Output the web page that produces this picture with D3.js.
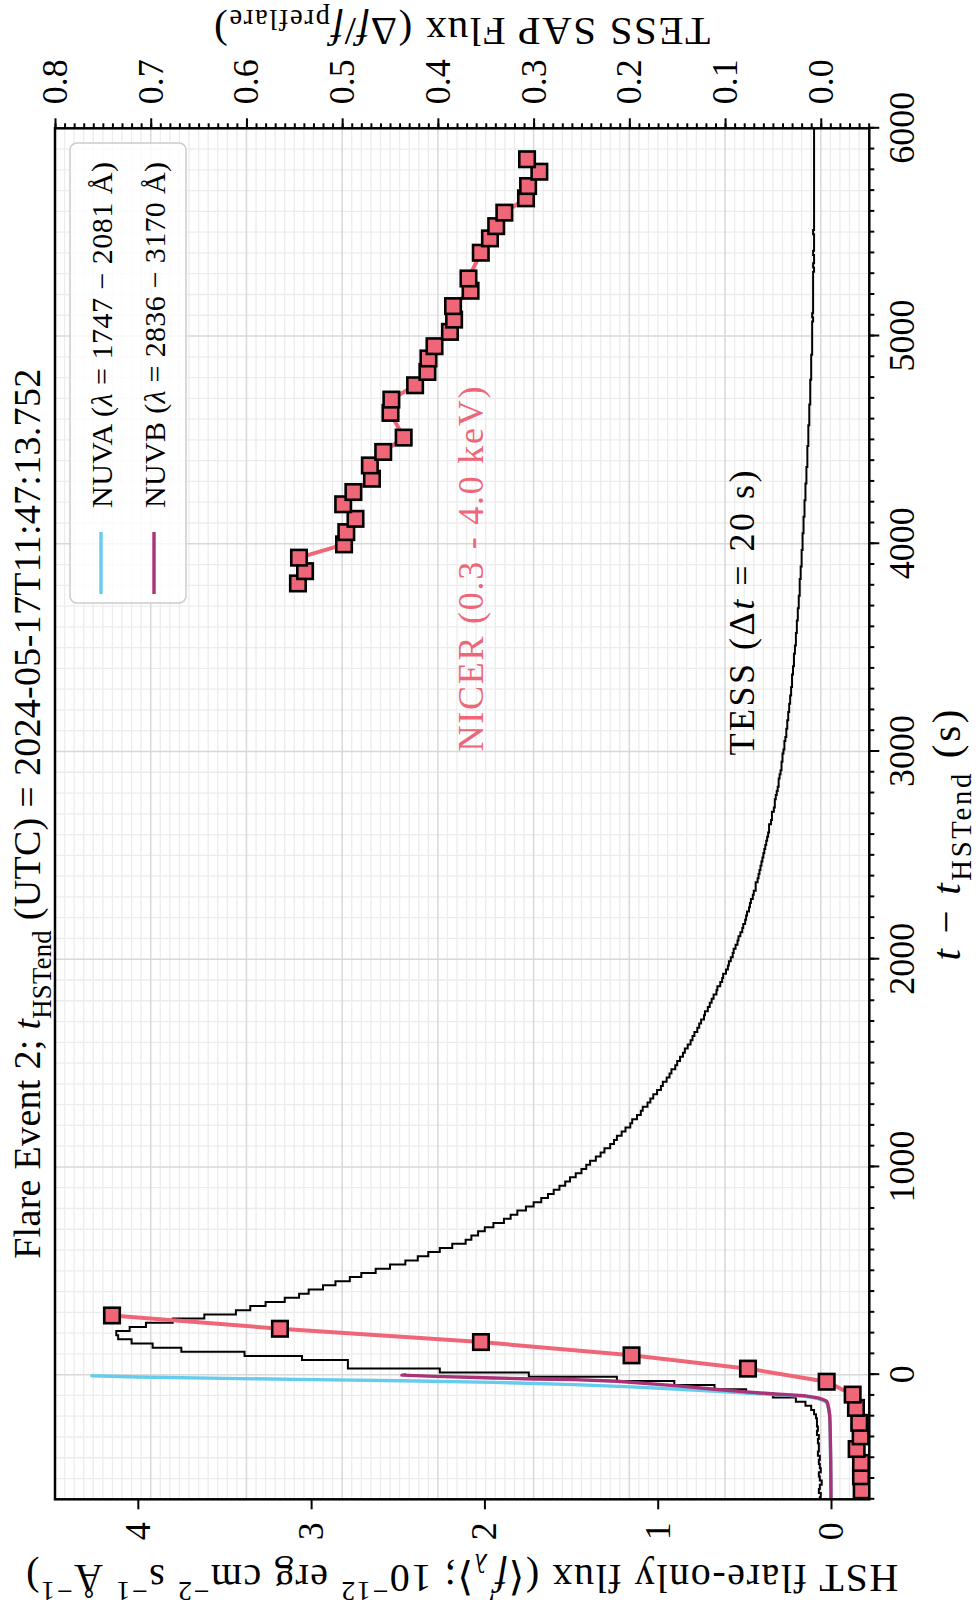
<!DOCTYPE html>
<html>
<head>
<meta charset="utf-8">
<script src="https://cdn.jsdelivr.net/npm/d3@7"></script>
<style>
  html, body { margin: 0; padding: 0; background: #fff; }
  svg { display: block; }
  text { font-family: "Liberation Serif", "DejaVu Serif", serif; fill: #000; }
</style>
</head>
<body>
<svg id="chart" width="979" height="1610"></svg>
<script>
// ---- data ----------------------------------------------------------------
// time axis (s relative to the end of the HST exposure)
const timeTicks = [0, 1000, 2000, 3000, 4000, 5000, 6000];
const hstTicks = [0, 1, 2, 3, 4];
const tessTicks = [0.0, 0.1, 0.2, 0.3, 0.4, 0.5, 0.6, 0.7, 0.8];

// TESS SAP flux, 20-s cadence starting at t = -600 s
const tessStart = -600;
const tessCadence = 20;
const tessFlux = [
  0.001, 0.000, 0.002, 0.001, -0.001, 0.001, 0.002, 0.000, 0.001, 0.002,
  0.001, 0.003, 0.002, 0.002, 0.003, 0.002, 0.004, 0.003, 0.004, 0.004,
  0.005, 0.007, 0.010, 0.016, 0.026, 0.050, 0.078, 0.111, 0.153, 0.213,
  0.305, 0.398, 0.494, 0.494, 0.542, 0.602, 0.668, 0.698, 0.720, 0.734,
  0.736, 0.722, 0.705, 0.677, 0.644, 0.611, 0.596, 0.580, 0.560, 0.545,
  0.535, 0.520, 0.507, 0.492, 0.480, 0.465, 0.450, 0.434, 0.421, 0.410,
  0.398, 0.385, 0.371, 0.365, 0.358, 0.351, 0.342, 0.331, 0.324, 0.317,
  0.308, 0.300, 0.292, 0.285, 0.279, 0.273, 0.267, 0.262, 0.256, 0.250,
  0.245, 0.241, 0.235, 0.230, 0.226, 0.220, 0.216, 0.213, 0.208, 0.204,
  0.199, 0.197, 0.192, 0.188, 0.186, 0.181, 0.178, 0.175, 0.171, 0.167,
  0.165, 0.161, 0.158, 0.156, 0.152, 0.150, 0.147, 0.144, 0.142, 0.139,
  0.136, 0.134, 0.132, 0.129, 0.127, 0.125, 0.122, 0.121, 0.118, 0.116,
  0.114, 0.112, 0.109, 0.108, 0.105, 0.103, 0.102, 0.099, 0.097, 0.096,
  0.094, 0.092, 0.091, 0.089, 0.087, 0.086, 0.084, 0.082, 0.081, 0.079,
  0.078, 0.077, 0.075, 0.074, 0.073, 0.071, 0.070, 0.068, 0.068, 0.066,
  0.065, 0.064, 0.063, 0.062, 0.061, 0.060, 0.059, 0.058, 0.057, 0.056,
  0.055, 0.054, 0.054, 0.052, 0.051, 0.051, 0.049, 0.048, 0.048, 0.047,
  0.046, 0.045, 0.044, 0.044, 0.043, 0.042, 0.041, 0.041, 0.040, 0.040,
  0.039, 0.038, 0.038, 0.037, 0.036, 0.036, 0.035, 0.035, 0.034, 0.034,
  0.033, 0.033, 0.032, 0.032, 0.031, 0.031, 0.030, 0.030, 0.030, 0.029,
  0.029, 0.028, 0.028, 0.028, 0.027, 0.027, 0.026, 0.026, 0.026, 0.025,
  0.025, 0.025, 0.024, 0.024, 0.024, 0.023, 0.023, 0.023, 0.022, 0.022,
  0.022, 0.022, 0.021, 0.021, 0.021, 0.020, 0.020, 0.020, 0.020, 0.019,
  0.019, 0.019, 0.019, 0.018, 0.018, 0.018, 0.018, 0.017, 0.017, 0.017,
  0.017, 0.016, 0.016, 0.016, 0.016, 0.015, 0.015, 0.015, 0.015, 0.014,
  0.014, 0.014, 0.014, 0.014, 0.013, 0.013, 0.013, 0.013, 0.013, 0.012,
  0.012, 0.012, 0.012, 0.012, 0.011, 0.011, 0.011, 0.011, 0.011, 0.011,
  0.010, 0.010, 0.010, 0.010, 0.010, 0.010, 0.009, 0.009, 0.009, 0.009,
  0.009, 0.009, 0.009, 0.009, 0.008, 0.009, 0.008, 0.008, 0.008, 0.008,
  0.008, 0.008, 0.008, 0.008, 0.008, 0.008, 0.007, 0.008, 0.007, 0.007,
  0.008, 0.007, 0.007, 0.007, 0.007, 0.008, 0.007, 0.007, 0.007, 0.007,
  0.007, 0.007, 0.007, 0.007, 0.007, 0.007, 0.007, 0.007, 0.007, 0.007,
  0.007, 0.007, 0.007, 0.007, 0.007, 0.007, 0.007, 0.007, 0.007, 0.007,
  0.007
];

// HST NUVA light curve
const nuvaTime = [-600, -500, -400, -300, -250, -200, -184, -160, -145, -133, -124, -115, -108, -104,
  -96, -88, -79, -69, -59, -48, -37, -29, -24, -18, -11, -5, 0];
const nuvaFlux = [0.0, 0.0, 0.002, 0.004, 0.006, 0.008, 0.010, 0.015, 0.020, 0.025, 0.045, 0.075, 0.12, 0.158,
  0.323, 0.49, 0.688, 0.903, 1.151, 1.483, 1.946, 2.476, 2.99, 3.50, 4.0, 4.265, 4.27];

// HST NUVB light curve
const nuvbTime = [-600, -500, -400, -300, -250, -200, -184, -160, -140, -128, -120, -112, -101, -93,
  -83, -69, -53, -32, -24, -21, -16, -8, -2, 0];
const nuvbFlux = [0.0, 0.001, 0.002, 0.004, 0.005, 0.007, 0.009, 0.014, 0.019, 0.025, 0.045, 0.075, 0.158, 0.323,
  0.49, 0.688, 0.903, 1.235, 1.483, 1.714, 1.946, 2.28, 2.476, 2.45];

// NICER 0.3-4.0 keV, scaled to the HST flux axis; two observing windows
const nicerTimeA = [-557, -489, -425, -358, -297, -232, -160, -96, -34, 29, 93, 157, 221, 285];
const nicerFluxA = [-0.177, -0.173, -0.173, -0.148, -0.171, -0.163, -0.144, -0.125, 0.025, 0.479, 1.151, 2.02, 3.18, 4.149];
const nicerTimeB = [3809, 3868, 3933, 3997, 4056, 4120, 4190, 4249, 4313, 4377, 4442, 4511, 4630, 4694, 4763,
  4827, 4892, 4951, 5020, 5079, 5144, 5218, 5277, 5401, 5470, 5529, 5594, 5663, 5722, 5791, 5851];
const nicerFluxB = [3.076, 3.035, 3.070, 2.810, 2.797, 2.744, 2.815, 2.756, 2.649, 2.661, 2.584, 2.466, 2.542, 2.537, 2.400,
  2.329, 2.323, 2.288, 2.199, 2.175, 2.181, 2.080, 2.092, 2.021, 1.968, 1.932, 1.885, 1.760, 1.748, 1.683, 1.754];

// ---- colours -------------------------------------------------------------
const colNUVA = "#66CCEE";
const colNUVB = "#AA3377";
const colNICER = "#EE6677";

// ---- layout (drawn landscape, then turned to portrait) -------------------
const svg = d3.select("#chart");
const root = svg.append("g").attr("transform", "translate(0,1610) rotate(-90)");

const P = { left: 110.7, right: 1481.7, top: 55, bottom: 869.3 };

const x = d3.scaleLinear().domain([-600, 6000]).range([P.left, P.right]);
const yH = d3.scaleLinear().domain([-0.221, 4.478]).range([P.bottom, P.top]);
const yT = d3.scaleLinear().domain([-0.0507, 0.8]).range([P.bottom, P.top]);

const clipId = "plotclip";
root.append("clipPath").attr("id", clipId).append("rect")
  .attr("x", P.left).attr("y", P.top)
  .attr("width", P.right - P.left).attr("height", P.bottom - P.top);

// ---- grid ----------------------------------------------------------------
const grid = root.append("g");
const tMinor = d3.range(-600, 6001, 100);
const tessMinor = d3.range(-5, 81).map(d => d / 100);

grid.selectAll("line.tm").data(tMinor.filter(d => d % 1000 !== 0)).join("line")
  .attr("x1", d => x(d)).attr("x2", d => x(d)).attr("y1", P.top).attr("y2", P.bottom)
  .attr("stroke", "#ececec").attr("stroke-width", 1.3);
grid.selectAll("line.vm").data(tessMinor.filter(d => Math.round(d * 100) % 10 !== 0)).join("line")
  .attr("x1", P.left).attr("x2", P.right).attr("y1", d => yT(d)).attr("y2", d => yT(d))
  .attr("stroke", "#ececec").attr("stroke-width", 1.3);
grid.append("g").selectAll("line").data(timeTicks).join("line")
  .attr("x1", d => x(d)).attr("x2", d => x(d)).attr("y1", P.top).attr("y2", P.bottom)
  .attr("stroke", "#d8d8d8").attr("stroke-width", 1.5);
grid.append("g").selectAll("line").data(tessTicks).join("line")
  .attr("x1", P.left).attr("x2", P.right).attr("y1", d => yT(d)).attr("y2", d => yT(d))
  .attr("stroke", "#d8d8d8").attr("stroke-width", 1.5);

// ---- data lines ----------------------------------------------------------
const plotG = root.append("g").attr("clip-path", `url(#${clipId})`);

const tessPts = tessFlux.map((v, i) => [tessStart + i * tessCadence, v]);
plotG.append("path").datum(tessPts)
  .attr("fill", "none").attr("stroke", "#000").attr("stroke-width", 2)
  .attr("d", d3.line().x(d => x(d[0])).y(d => yT(d[1])).curve(d3.curveStep));

const hstLine = d3.line().x(d => x(d[0])).y(d => yH(d[1]));
plotG.append("path").datum(nuvaTime.map((t, i) => [t, nuvaFlux[i]]))
  .attr("fill", "none").attr("stroke", colNUVA).attr("stroke-width", 3.4)
  .attr("stroke-linejoin", "round").attr("d", hstLine);
plotG.append("path").datum(nuvbTime.map((t, i) => [t, nuvbFlux[i]]))
  .attr("fill", "none").attr("stroke", colNUVB).attr("stroke-width", 3.4)
  .attr("stroke-linejoin", "round").attr("d", hstLine);

[[nicerTimeA, nicerFluxA], [nicerTimeB, nicerFluxB]].forEach(([ts, fs]) => {
  const pts = ts.map((t, i) => [t, fs[i]]);
  plotG.append("path").datum(pts)
    .attr("fill", "none").attr("stroke", colNICER).attr("stroke-width", 4)
    .attr("d", hstLine);
  const s = 15.5;
  plotG.append("g").selectAll("rect").data(pts).join("rect")
    .attr("x", d => x(d[0]) - s / 2).attr("y", d => yH(d[1]) - s / 2)
    .attr("width", s).attr("height", s)
    .attr("fill", colNICER).attr("stroke", "#000").attr("stroke-width", 2.6);
});

// ---- rich text helper ----------------------------------------------------
function rich(sel, parts, size, subShift) {
  const sub = subShift === undefined ? 0.28 : subShift;
  let shift = 0;
  parts.forEach(p => {
    const ts = sel.append("tspan").text(p.t);
    if (p.i) ts.attr("font-style", "italic");
    const target = p.s === "sub" ? sub * size : p.s === "sup" ? -0.42 * size : 0;
    if (target !== shift) { ts.attr("dy", target - shift); shift = target; }
    if (p.s) ts.attr("font-size", size * 0.7);
  });
}

// ---- annotations ---------------------------------------------------------
root.append("text").attr("x", x(3000)).attr("y", yH(2.01))
  .attr("font-size", 36).attr("textLength", 365).attr("lengthAdjust", "spacing")
  .style("fill", colNICER)
  .text("NICER (0.3 - 4.0 keV)");
const tessNote = root.append("text").attr("x", x(3000) - 4).attr("y", yT(0.07))
  .attr("font-size", 36).attr("textLength", 285).attr("lengthAdjust", "spacing");
rich(tessNote, [{ t: "TESS (Δ" }, { t: "t", i: true }, { t: " = 20 s)" }], 36);

// ---- axes ----------------------------------------------------------------
const tickFont = 36;
function styleAxis(g) {
  g.select(".domain").remove();
  g.selectAll(".tick line").attr("stroke", "#000").attr("stroke-width", 2);
  g.selectAll(".tick text").attr("font-size", tickFont)
    .attr("font-family", "Liberation Serif, serif");
}

root.append("g").attr("transform", `translate(0,${P.bottom})`)
  .call(d3.axisBottom(x).tickValues(tMinor).tickSize(5).tickFormat(""))
  .call(styleAxis);
root.append("g").attr("transform", `translate(0,${P.bottom})`)
  .call(d3.axisBottom(x).tickValues(timeTicks).tickSize(10).tickPadding(9).tickFormat(d3.format("d")))
  .call(styleAxis);

root.append("g").attr("transform", `translate(${P.left},0)`)
  .call(d3.axisLeft(yH).tickValues(hstTicks).tickSize(10).tickPadding(13).tickFormat(d3.format("d")))
  .call(styleAxis);

root.append("g").attr("transform", `translate(${P.right},0)`)
  .call(d3.axisRight(yT).tickValues(tessMinor).tickSize(5).tickFormat(""))
  .call(styleAxis);
root.append("g").attr("transform", `translate(${P.right},0)`)
  .call(d3.axisRight(yT).tickValues(tessTicks).tickSize(10).tickPadding(14).tickFormat(d3.format(".1f")))
  .call(styleAxis);

// frame
root.append("rect").attr("x", P.left).attr("y", P.top)
  .attr("width", P.right - P.left).attr("height", P.bottom - P.top)
  .attr("fill", "none").attr("stroke", "#000").attr("stroke-width", 2.5);

// ---- axis labels & title -------------------------------------------------
const cx = (P.left + P.right) / 2;
const cy = (P.top + P.bottom) / 2;

const title = root.append("text").attr("x", cx).attr("y", 40)
  .attr("text-anchor", "middle").attr("font-size", 38)
  .attr("textLength", 890).attr("lengthAdjust", "spacing");
rich(title, [{ t: "Flare Event 2; " }, { t: "t", i: true }, { t: "HSTend", s: "sub" },
  { t: " (UTC) = 2024-05-17T11:47:13.752" }], 38);

const xl = root.append("text").attr("x", 775).attr("y", 960)
  .attr("text-anchor", "middle").attr("font-size", 41)
  .attr("textLength", 251).attr("lengthAdjust", "spacing");
rich(xl, [{ t: "t", i: true }, { t: " − " }, { t: "t", i: true }, { t: "HSTend", s: "sub" }, { t: " (s)" }], 41);

const yl = root.append("text")
  .attr("transform", `translate(45,${cy}) rotate(-90)`)
  .attr("text-anchor", "middle").attr("font-size", 40)
  .attr("textLength", 872).attr("lengthAdjust", "spacing");
rich(yl, [{ t: "HST flare-only flux (⟨" }, { t: "f", i: true }, { t: "′", s: "sup" },
  { t: "λ", s: "sub", i: true }, { t: "⟩; 10" }, { t: "−12", s: "sup" }, { t: " erg cm" },
  { t: "−2", s: "sup" }, { t: " s" }, { t: "−1", s: "sup" }, { t: " Å" }, { t: "−1", s: "sup" }, { t: ")" }], 40);

const yr = root.append("text")
  .attr("transform", `translate(1592,${cy}) rotate(-90)`)
  .attr("text-anchor", "middle").attr("font-size", 41)
  .attr("textLength", 496).attr("lengthAdjust", "spacing");
rich(yr, [{ t: "TESS SAP Flux (Δ" }, { t: "f", i: true }, { t: "/" }, { t: "f", i: true },
  { t: "preflare", s: "sub" }, { t: ")" }], 41, 0.2);

// ---- legend --------------------------------------------------------------
const lg = root.append("g");
lg.append("rect").attr("x", 1007).attr("y", 70).attr("width", 460).attr("height", 116)
  .attr("rx", 7).attr("fill", "#fff").attr("fill-opacity", 0.8)
  .attr("stroke", "#cccccc").attr("stroke-width", 1.5);
const legendItems = [
  { col: colNUVA, name: "NUVA", range: "1747 − 2081 Å" },
  { col: colNUVB, name: "NUVB", range: "2836 − 3170 Å" }
];
legendItems.forEach((d, i) => {
  const ly = 101 + i * 53;
  lg.append("line").attr("x1", 1016).attr("x2", 1078).attr("y1", ly).attr("y2", ly)
    .attr("stroke", d.col).attr("stroke-width", 3.4);
  const t = lg.append("text").attr("x", 1102).attr("y", ly + 11).attr("font-size", 30)
    .attr("textLength", 346).attr("lengthAdjust", "spacing");
  rich(t, [{ t: d.name + " (" }, { t: "λ", i: true }, { t: " = " + d.range + ")" }], 30);
});
</script>
</body>
</html>
